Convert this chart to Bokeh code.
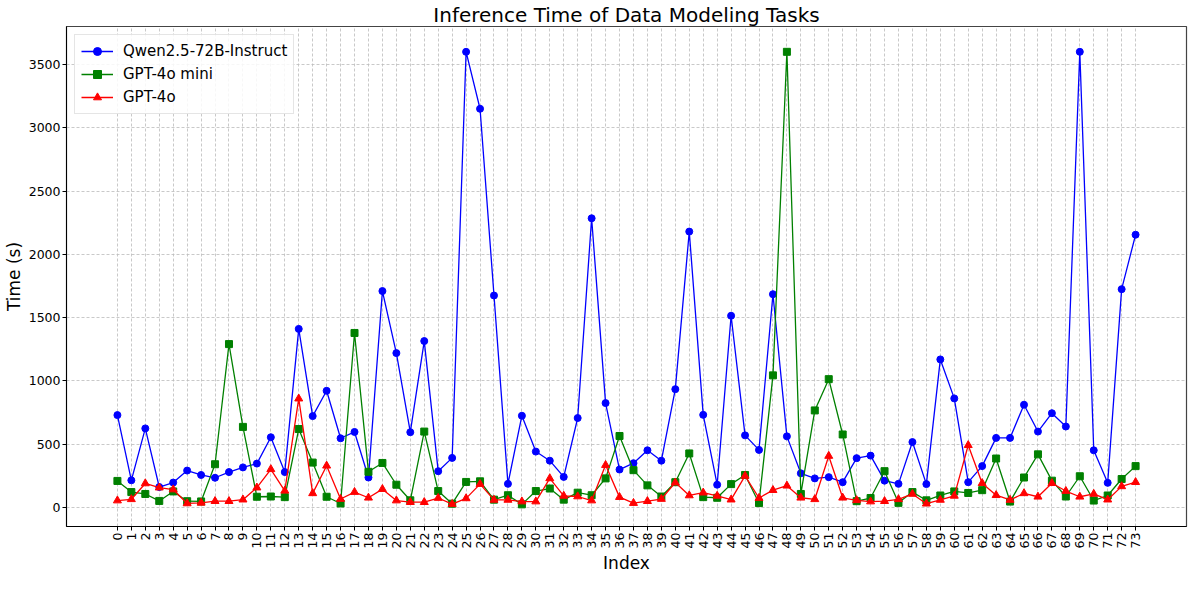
import math
from bokeh.plotting import figure
from bokeh.models import FixedTicker, Legend, LegendItem, Range1d
from bokeh.embed import file_html
from bokeh.resources import INLINE

index = list(range(74))

qwen = [730, 215, 625, 162, 197, 292, 257, 235, 280, 317,
        347, 555, 280, 1411, 722, 922, 547, 597, 237, 1710,
        1220, 595, 1315, 287, 392, 3600, 3150, 1675, 187, 725,
        442, 370, 242, 707, 2285, 825, 300, 350, 452, 370,
        935, 2180, 732, 180, 1515, 570, 455, 1685, 562, 270,
        230, 240, 200, 390, 410, 212, 187, 517, 185, 1170,
        862, 200, 327, 550, 550, 812, 600, 745, 640, 3600,
        452, 195, 1725, 2155]

gpt4o_mini = [210, 122, 107, 52, 127, 50, 48, 342, 1291, 637,
              85, 87, 82, 620, 355, 85, 32, 1379, 282, 352,
              180, 57, 600, 130, 30, 202, 207, 62, 97, 25,
              130, 150, 62, 117, 97, 230, 565, 295, 175, 87,
              200, 427, 82, 77, 185, 257, 35, 1044, 3600, 107,
              767, 1014, 577, 50, 75, 287, 37, 122, 57, 95,
              127, 115, 137, 387, 47, 237, 420, 212, 87, 247,
              55, 95, 225, 327]

gpt4o = [55, 65, 190, 157, 142, 32, 37, 50, 50, 62,
         157, 302, 132, 860, 112, 330, 67, 122, 77, 145,
         55, 42, 42, 75, 27, 72, 185, 60, 60, 47,
         47, 230, 92, 87, 55, 335, 82, 35, 50, 67,
         197, 95, 117, 92, 62, 250, 75, 137, 172, 77,
         65, 407, 77, 57, 47, 50, 65, 107, 30, 60,
         92, 492, 192, 97, 60, 112, 85, 192, 130, 85,
         107, 62, 167, 200]

series_names = ["Qwen2.5-72B-Instruct", "GPT-4o mini", "GPT-4o"]
y_ticks = [0, 500, 1000, 1500, 2000, 2500, 3000, 3500]

FONT = "DejaVu Sans"

p = figure(width=1188, height=576, output_backend="svg", toolbar_location=None,
           title="Inference Time of Data Modeling Tasks",
           x_range=Range1d(-3.65, 76.65), y_range=Range1d(-150, 3800),
           min_border_left=4, min_border_right=2, min_border_top=0, min_border_bottom=0)

p.title.text_font = FONT
p.title.text_font_size = "20px"
p.title.text_font_style = "normal"
p.title.align = "center"
p.title.text_color = "black"
p.title.standoff = 0
p.title.offset = 0

p.outline_line_color = "#444444"
p.outline_line_width = 1.2

p.xaxis.ticker = FixedTicker(ticks=index)
p.yaxis.ticker = FixedTicker(ticks=y_ticks)
p.xaxis.major_label_orientation = math.pi / 2
p.xaxis.minor_tick_line_color = None
p.yaxis.minor_tick_line_color = None
for ax in (p.xaxis, p.yaxis):
    ax.major_label_text_font = FONT
    ax.major_label_text_font_size = "12.5px"
    ax.major_label_text_color = "black"
    ax.axis_label_text_font = FONT
    ax.axis_label_text_font_size = "17px"
    ax.axis_label_text_font_style = "normal"
    ax.axis_label_text_color = "black"
    ax.axis_line_color = "black"
    ax.major_tick_line_color = "black"
    ax.major_tick_in = 0
    ax.major_tick_out = 4
    ax.axis_label_standoff = 2
    ax.major_label_standoff = 2
p.xaxis.axis_label = "Index"
p.yaxis.axis_label = "Time (s)"

p.xgrid.grid_line_color = "#bbbbbb"
p.ygrid.grid_line_color = "#bbbbbb"
p.xgrid.grid_line_dash = "3 2"
p.ygrid.grid_line_dash = "3 2"
p.xgrid.grid_line_width = 0.8
p.ygrid.grid_line_width = 0.8

r1 = p.line(index, qwen, line_color="blue", line_width=1.3)
m1 = p.scatter(index, qwen, marker="circle", size=7, fill_color="blue", line_color="blue")
r2 = p.line(index, gpt4o_mini, line_color="green", line_width=1.3)
m2 = p.scatter(index, gpt4o_mini, marker="square", size=7, fill_color="green", line_color="green")
r3 = p.line(index, gpt4o, line_color="red", line_width=1.3)
m3 = p.scatter(index, gpt4o, marker="triangle", size=8, fill_color="red", line_color="red")

legend = Legend(items=[
    LegendItem(label=series_names[0], renderers=[r1, m1]),
    LegendItem(label=series_names[1], renderers=[r2, m2]),
    LegendItem(label=series_names[2], renderers=[r3, m3]),
], location="top_left")
legend.label_text_font = FONT
legend.label_text_font_size = "15px"
legend.label_text_color = "black"
legend.border_line_color = "#cccccc"
legend.border_line_width = 1
legend.background_fill_alpha = 0.85
legend.glyph_width = 32
legend.spacing = 3
legend.padding = 6
legend.margin = 8
legend.label_standoff = 10
p.add_layout(legend)

open("out.html", "w").write(file_html(p, INLINE))
